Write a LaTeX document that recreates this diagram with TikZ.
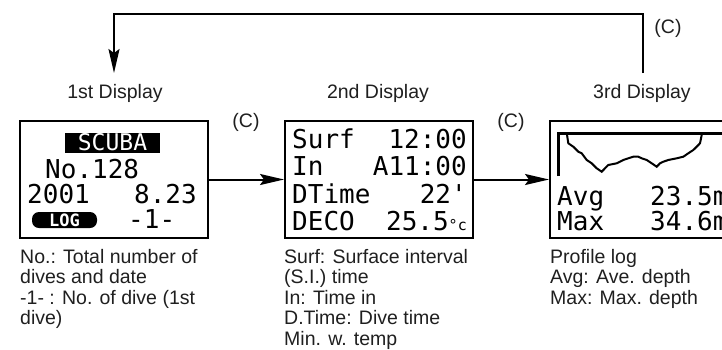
\documentclass[tikz,border=0pt]{standalone}
\usepackage{fontspec}
\setmainfont{Liberation Sans}
\newfontfamily\lcd{DejaVu Sans Mono}
\usetikzlibrary{arrows.meta}
\begin{document}
\begin{tikzpicture}[x=1pt,y=-1pt,
  lbl/.style={font=\fontsize{19.5}{20.5}\selectfont, text=black!88, inner sep=0pt},
  desc/.style={lbl, align=left, anchor=base west},
  lcdt/.style={font=\lcd\fontsize{26}{26}\selectfont, inner sep=0pt},
  disp/.style={draw, line width=2pt, inner sep=0pt, minimum height=117pt, minimum width=188pt},
  arr/.style={line width=2pt, -{Stealth[length=24pt,width=11pt,inset=4pt]}},
  thin/.style={line width=2pt}]
\clip (0,0) rectangle (722,349);
\useasboundingbox (0,0) rectangle (722,349);

% display boxes
\node[disp] (b1) at (114,179.5) {};
\node[disp] (b2) at (379,179.5) {};
\node[disp, minimum width=200pt] (b3) at (650,179.5) {};

% top labels
\node[lbl, anchor=base] (d1) at (115,98) {1st Display};
\node[lbl, anchor=base] (d2) at (378,98) {2nd Display};
\node[lbl, anchor=base] (d3) at (642,98) {3rd Display};
\node[lbl, anchor=base] (c1) at (668,33) {(C)};
\node[lbl, anchor=base] (c2) at (246,127) {(C)};
\node[lbl, anchor=base] (c3) at (511,127) {(C)};

% connectors
\coordinate (t3) at (643,73);
\coordinate (t1) at (114,73);
\draw[arr] (t3) -- ++(0,-59.5) -| (t1);
\draw[arr] (b1.east) -- (b2.west);
\draw[arr] (b2.east) -- (b3.west);

% 1st display contents
\node[lcdt, fill=black, text=white, minimum width=95pt, minimum height=20pt,
      font=\lcd\fontsize{23}{23}\selectfont] (scuba) at (112.5,142.5) {SCUBA};
\node[lcdt, anchor=base west] (no) at (45,178) {No.128};
\node[lcdt, anchor=base west] (yr) at (27,203) {2001};
\node[lcdt, anchor=base east] (dt) at (197,203) {8.23};
\node[lcdt, fill=black, text=white, rounded corners=7pt, minimum width=65pt,
      minimum height=16pt, font=\lcd\bfseries\fontsize{17}{17}\selectfont] (log) at (64.5,220) {LOG};
\node[lcdt, anchor=base west] (one) at (128,228) {-1-};

% 2nd display contents
\node[lcdt, anchor=base west] (s1) at (292,148) {Surf};
\node[lcdt, anchor=base east] (s2) at (467,148) {12:00};
\node[lcdt, anchor=base west] (i1) at (292,175) {In};
\node[lcdt, anchor=base east] (i2) at (467,175) {A11:00};
\node[lcdt, anchor=base west] (t1n) at (292,203) {DTime};
\node[lcdt, anchor=base east] (t2n) at (467,203) {22'};
\node[lcdt, anchor=base west] (e1) at (292,230) {DECO};
\node[lcdt, anchor=base east] (e2) at (467,230) {25.5{\fontsize{15}{15}\selectfont °c}};

% 3rd display contents
\draw[line width=3pt] (558,176) -- (558,133) -- (745,133);
\draw[thin, line join=miter] (566.7,132.7) -- (568.3,143.3) -- (573.3,146.7) -- (578.3,151.7) -- (581.7,153.3)
  -- (586.7,160) -- (591.7,163.3) -- (596.7,168.3) -- (601.7,171.7) -- (605,168.3) -- (608.3,165)
  -- (616.7,163.3) -- (623.3,160) -- (628.3,158.3) -- (633.3,156.7) -- (638.3,156.7) -- (641.7,158.3)
  -- (646.7,160) -- (651.7,163.3) -- (656.7,166.7) -- (660,163.3) -- (663.3,161.7) -- (668.3,160)
  -- (676.7,158.3) -- (683.3,156.7) -- (688.3,153.3) -- (693.3,150) -- (696.7,146.7) -- (700,143.3)
  -- (701.7,135) -- (701.7,133);
\node[lcdt, anchor=base west] (a1) at (557,205) {Avg};
\node[lcdt, anchor=base west] (a2) at (650,205) {23.5m};
\node[lcdt, anchor=base west] (m1) at (557,230) {Max};
\node[lcdt, anchor=base west] (m2) at (650,230) {34.6m};

% descriptions (base = baseline of last line)
\node[desc] (x1) at (20,324.5) {No.: Total number of\\dives and date\\-1- : No. of dive (1st\\dive)};
\node[desc] (x2) at (284,345) {Surf: Surface interval\\(S.I.) time\\In: Time in\\D.Time: Dive time\\Min. w. temp};
\node[desc] (x3) at (550,304) {Profile log\\Avg: Ave. depth\\Max: Max. depth};
\end{tikzpicture}
\end{document}
